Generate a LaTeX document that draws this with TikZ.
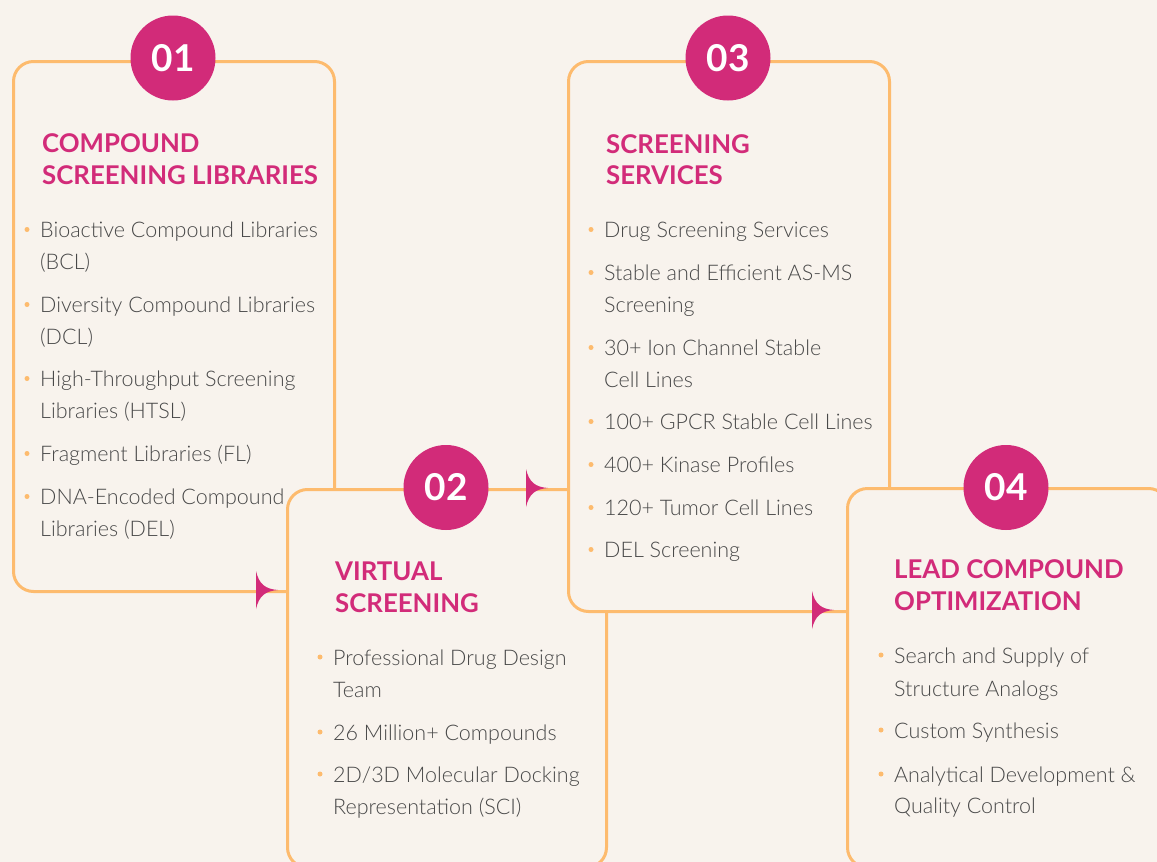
\documentclass[tikz,border=0pt]{standalone}
\usepackage{fontspec}
\setmainfont{Lato}[UprightFont=* Light, BoldFont=* Bold]
\definecolor{bg}{RGB}{248,243,237}
\definecolor{mag}{RGB}{210,43,121}
\definecolor{org}{RGB}{253,187,110}
\definecolor{txt}{RGB}{72,72,72}
\tikzset{
  card/.style={draw=org, line width=3pt, fill=bg, rounded corners=20pt, rectangle, inner sep=0pt, anchor=north west},
  num/.style={circle, fill=mag, minimum size=85pt, inner sep=0pt, text=white, font=\bfseries\fontsize{37}{37}\selectfont},
  ttl/.style={anchor=base west, text=mag, font=\bfseries\fontsize{25.8}{26}\selectfont, inner sep=0pt},
  itm/.style={anchor=base west, text=txt, font=\fontsize{21.5}{22}\selectfont, inner sep=0pt},
  bdot/.style={circle, fill=org, minimum size=5pt, inner sep=0pt},
  tipshape/.style={fill=mag}
}
\newcommand\bitem[4]{%
  \node[itm] (#1) at (#2,#3) {#4};
  \node[bdot] (#1d) at (#2-13,#3-8) {};}
\newcommand\litem[4]{\node[itm] (#1) at (#2,#3) {#4};}
\newcommand\flowtip[1]{%
  \fill[tipshape, shift={(#1)}] (0,-19) .. controls (3,-6) and (9,-1) .. (22,0)
     .. controls (9,1) and (3,6) .. (0,19) -- cycle;}
\begin{document}
\begin{tikzpicture}[x=1pt, y=-1pt]
\useasboundingbox (0,0) rectangle (1157,862);
\clip (0,0) rectangle (1157,862);
\fill[bg] (0,0) rectangle (1157,862);

% card 1
\node[card, minimum width=321pt, minimum height=530pt] (c1) at (12,60) {};
\coordinate (a1) at (256,590);
\flowtip{a1}
% card 2
\node[card, minimum width=319pt, minimum height=378pt] (c2) at (286,488) {};
\coordinate (a2) at (526,488);
\flowtip{a2}
% card 3
\node[card, minimum width=321pt, minimum height=550pt] (c3) at (567,60) {};
\coordinate (a3) at (812,610);
\flowtip{a3}
% card 4
\node[card, minimum width=321pt, minimum height=379pt] (c4) at (846,487) {};

% number circles
\node[num] (n1) at (173,58) {01};
\node[num] (n2) at (446,487.5) {02};
\node[num] (n3) at (728,58) {03};
\node[num] (n4) at (1006,487.5) {04};

% titles
\node[ttl] (h1a) at (42,152) {COMPOUND};
\node[ttl] (h1b) at (42,184) {SCREENING LIBRARIES};
\node[ttl] (h2a) at (335,580) {VIRTUAL};
\node[ttl] (h2b) at (335,612) {SCREENING};
\node[ttl] (h3a) at (606,153) {SCREENING};
\node[ttl] (h3b) at (606,184) {SERVICES};
\node[ttl] (h4a) at (894,578) {LEAD COMPOUND};
\node[ttl] (h4b) at (894,610) {OPTIMIZATION};

% card 1 items
\bitem{i1a}{40}{237.5}{Bioactive Compound Libraries}
\litem{i1b}{40}{269.5}{(BCL)}
\bitem{i1c}{40}{312.5}{Diversity Compound Libraries}
\litem{i1d}{40}{344.5}{(DCL)}
\bitem{i1e}{40}{386.5}{High-Throughput Screening}
\litem{i1f}{40}{418.5}{Libraries (HTSL)}
\bitem{i1g}{40}{461.5}{Fragment Libraries (FL)}
\bitem{i1h}{40}{504.5}{DNA-Encoded Compound}
\litem{i1i}{40}{536.5}{Libraries (DEL)}

% card 2 items
\bitem{i2a}{333}{665}{Professional Drug Design}
\litem{i2b}{333}{697}{Team}
\bitem{i2c}{333}{740}{26 Million+ Compounds}
\bitem{i2d}{333}{782}{2D/3D Molecular Docking}
\litem{i2e}{333}{814}{Representation (SCI)}

% card 3 items
\bitem{i3a}{604}{237.5}{Drug Screening Services}
\bitem{i3b}{604}{280.5}{Stable and Efficient AS-MS}
\litem{i3c}{604}{312.5}{Screening}
\bitem{i3d}{604}{355.5}{30+ Ion Channel Stable}
\litem{i3e}{604}{387.5}{Cell Lines}
\bitem{i3f}{604}{429.5}{100+ GPCR Stable Cell Lines}
\bitem{i3g}{604}{472.5}{400+ Kinase Profiles}
\bitem{i3h}{604}{515.5}{120+ Tumor Cell Lines}
\bitem{i3i}{604}{557.5}{DEL Screening}

% card 4 items
\bitem{i4a}{894}{663}{Search and Supply of}
\litem{i4b}{894}{696}{Structure Analogs}
\bitem{i4c}{894}{738}{Custom Synthesis}
\bitem{i4d}{894}{782}{Analytical Development \&}
\litem{i4e}{894}{813}{Quality Control}
\end{tikzpicture}
\end{document}
